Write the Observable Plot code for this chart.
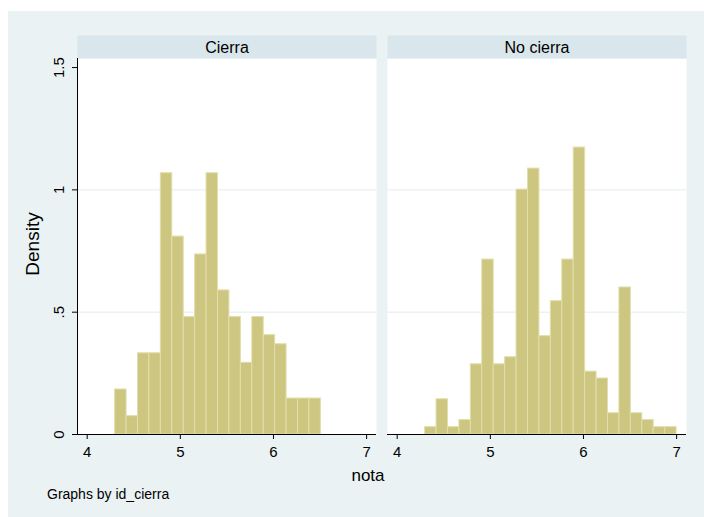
<!DOCTYPE html>
<html>
<head>
<meta charset="utf-8">
<script src="https://cdn.jsdelivr.net/npm/d3@7"></script>
<script src="https://cdn.jsdelivr.net/npm/@observablehq/plot@0.6"></script>
<style>
  html, body { margin: 0; padding: 0; background: #ffffff; }
  #wrap { position: absolute; left: 8px; top: 11px; width: 696px; height: 506px; background: #eaf2f3; overflow: hidden; }
</style>
</head>
<body>
<div id="wrap"></div>
<script>
// ---- data ----
const groups = ["Cierra", "No cierra"];
const binStart = 4.3;
const binWidth = 0.1227;
const cierraDensity = [0.184, 0.075, 0.332, 0.332, 1.068, 0.809, 0.480, 0.736, 1.068, 0.589, 0.480, 0.293, 0.480, 0.406, 0.369, 0.147, 0.147, 0.147];
const noCierraDensity = [0.030, 0.144, 0.030, 0.059, 0.287, 0.715, 0.287, 0.316, 1.001, 1.087, 0.402, 0.545, 0.715, 1.173, 0.257, 0.229, 0.087, 0.601, 0.087, 0.059, 0.030, 0.030];
const xTicks = [4, 5, 6, 7];
const yTicks = [0, 0.5, 1, 1.5];
const gridTicks = [0.5, 1];
const xDomain = [3.896, 7.106];
const yDomain = [0, 1.537];
const yTitle = "Density";
const xTitle = "nota";
const note = "Graphs by id_cierra";

// ---- build table ----
const rows = [];
[[groups[0], cierraDensity], [groups[1], noCierraDensity]].forEach(([g, arr]) => {
  arr.forEach((d, i) => rows.push({g, x1: binStart + i * binWidth, x2: binStart + (i + 1) * binWidth, density: d}));
});

const fmt = d => d === 0 ? "0" : String(d).replace(/^0\./, ".");
const FONT = "'Liberation Sans', Arial, Helvetica, sans-serif";

const W = 696, H = 506;
const chart = Plot.plot({
  width: W,
  height: H,
  marginLeft: 69,
  marginRight: 17,
  marginTop: 47,
  marginBottom: 83,
  style: {background: "transparent", fontFamily: FONT, color: "#000", overflow: "visible"},
  fx: {domain: groups, paddingInner: 0.0354, paddingOuter: 0, axis: null, label: null},
  x: {domain: xDomain, label: null, axis: null},
  y: {domain: yDomain, label: null, axis: null},
  marks: [
    Plot.frame({fill: "#ffffff", stroke: null}),
    Plot.frame({fill: "#d9e6eb", stroke: null, insetTop: -23, insetBottom: 376}),
    Plot.text(groups, {fx: d => d, text: d => d, frameAnchor: "top", dy: -11, fontSize: 16, lineAnchor: "middle", fill: "#000"}),
    Plot.gridY(gridTicks, {stroke: "#e4edef", strokeOpacity: 1, strokeWidth: 1}),
    Plot.rectY(rows, {fx: "g", x1: "x1", x2: "x2", y: "density", fill: "#ccc680", stroke: "#e2dea9", strokeWidth: 1}),
    Plot.ruleY([0], {stroke: "#000", strokeWidth: 1}),
    Plot.ruleX([{g: groups[0]}], {fx: "g", x: () => xDomain[0], stroke: "#000", strokeWidth: 1}),
    Plot.axisX(xTicks, {tickSize: 5, tickPadding: 7, fontSize: 15, label: null, stroke: "#000", fill: "#000"}),
    Plot.axisY(yTicks, {tickSize: 5, tickPadding: 9, tickRotate: -90, tickFormat: fmt, fontSize: 15, label: null, stroke: "#000", fill: "#000"})
  ]
});

const svg = d3.select(chart);
svg.append("text")
  .attr("transform", "translate(31,233) rotate(-90)")
  .attr("text-anchor", "middle")
  .attr("font-family", FONT)
  .attr("font-size", 19)
  .attr("fill", "#000")
  .text(yTitle);
svg.append("text")
  .attr("x", 360).attr("y", 470)
  .attr("text-anchor", "middle")
  .attr("font-family", FONT)
  .attr("font-size", 17)
  .attr("fill", "#000")
  .text(xTitle);
svg.append("text")
  .attr("x", 39).attr("y", 488)
  .attr("text-anchor", "start")
  .attr("font-family", FONT)
  .attr("font-size", 14)
  .attr("fill", "#000")
  .text(note);

document.getElementById("wrap").appendChild(chart);
</script>
</body>
</html>
